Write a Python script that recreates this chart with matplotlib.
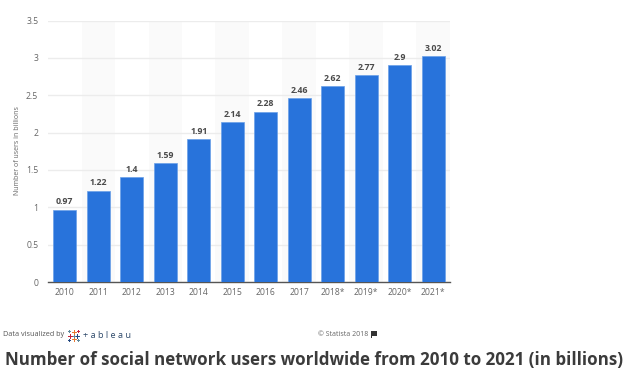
import matplotlib
matplotlib.use("Agg")
import matplotlib.pyplot as plt
from matplotlib.lines import Line2D
from matplotlib.patches import Polygon

years = ["2010", "2011", "2012", "2013", "2014", "2015", "2016", "2017",
         "2018*", "2019*", "2020*", "2021*"]
users = [0.97, 1.22, 1.4, 1.59, 1.91, 2.14, 2.28, 2.46, 2.62, 2.77, 2.9, 3.02]
labels = ["0.97", "1.22", "1.4", "1.59", "1.91", "2.14", "2.28", "2.46",
          "2.62", "2.77", "2.9", "3.02"]
y_ticks = [0, 0.5, 1, 1.5, 2, 2.5, 3, 3.5]
y_tick_labels = ["0", "0.5", "1", "1.5", "2", "2.5", "3", "3.5"]

W, H = 628, 392
plt.rcParams["font.family"] = ["Open Sans", "DejaVu Sans"]


# figure coords from reference pixels
def fx(px):
    return px / W


def fy(py):
    return 1 - py / H


fig = plt.figure(figsize=(W / 100, H / 100), dpi=100, facecolor="white")
ax = fig.add_axes([fx(48), fy(282), fx(450) - fx(48), fy(20.5) - fy(282)])

# alternating column shading
for i in range(1, len(years), 2):
    ax.axvspan(i - 0.5, i + 0.5, color="#fafafa", lw=0, zorder=0)

ax.yaxis.grid(True, color="#ececec", lw=1)
ax.set_axisbelow(True)

x = range(len(years))
ax.bar(x, users, width=0.69, color="#2873db", edgecolor="#6aa0e8", linewidth=0.5, zorder=3)

for i, v in enumerate(users):
    ax.text(i, v + 0.045, labels[i], ha="center", va="bottom", fontsize=6.3,
            fontweight="bold", color="#4a4a4a", zorder=4)

ax.set_xlim(-0.5, 11.5)
ax.set_ylim(0, 3.5)
ax.set_xticks(list(x))
ax.set_xticklabels(years, fontsize=6.2, color="#666666")
ax.set_yticks(y_ticks)
ax.set_yticklabels(y_tick_labels, fontsize=6.2, color="#666666")
ax.tick_params(axis="both", length=0)
ax.tick_params(axis="x", pad=4.5)
ax.tick_params(axis="y", pad=7)

for s in ["top", "right", "left"]:
    ax.spines[s].set_visible(False)
ax.spines["bottom"].set_color("#555555")
ax.spines["bottom"].set_linewidth(1)

fig.text(fx(17.5), fy(151), "Number of users in billions", rotation=90, ha="center",
         va="center", fontsize=5.0, color="#666666")

# footer
fig.text(fx(3), fy(334), "Data visualized by", ha="left", va="center", fontsize=5.2, color="#555555")
fig.text(fx(83), fy(336), "+ a b l e a u", ha="left", va="center", fontsize=6.6, color="#2f4a6b")

# tableau logo crosses
crosses = [(73.5, 332, "#e8762b", 2), (70, 335.5, "#c72035", 2), (77, 335.5, "#1f447e", 2),
           (73.5, 339, "#e8762b", 2), (73.5, 335.5, "#5b879b", 1), (69, 330.5, "#59879b", 1),
           (78, 330.5, "#c72035", 1), (69, 340, "#1f447e", 1), (78, 340, "#5b879b", 1)]
for cx, cy, col, r in crosses:
    fig.add_artist(Line2D([fx(cx - r), fx(cx + r)], [fy(cy), fy(cy)], color=col, lw=0.7))
    fig.add_artist(Line2D([fx(cx), fx(cx)], [fy(cy - r), fy(cy + r)], color=col, lw=0.7))

fig.text(fx(317.5), fy(334), "© Statista 2018", ha="left", va="center", fontsize=5.0, color="#666666")
fig.add_artist(Polygon([(fx(371), fy(338)), (fx(371), fy(331)), (fx(377), fy(331)),
                        (fx(377), fy(335.5)), (fx(372), fy(335.5)), (fx(372), fy(338))],
                       closed=True, transform=fig.transFigure, color="#333333", lw=0))

fig.text(fx(5), fy(360), "Number of social network users worldwide from 2010 to 2021 (in billions)",
         ha="left", va="center", fontsize=12.25, fontweight="bold", color="#3b3b3b")

fig.savefig("out.png", dpi=100)
